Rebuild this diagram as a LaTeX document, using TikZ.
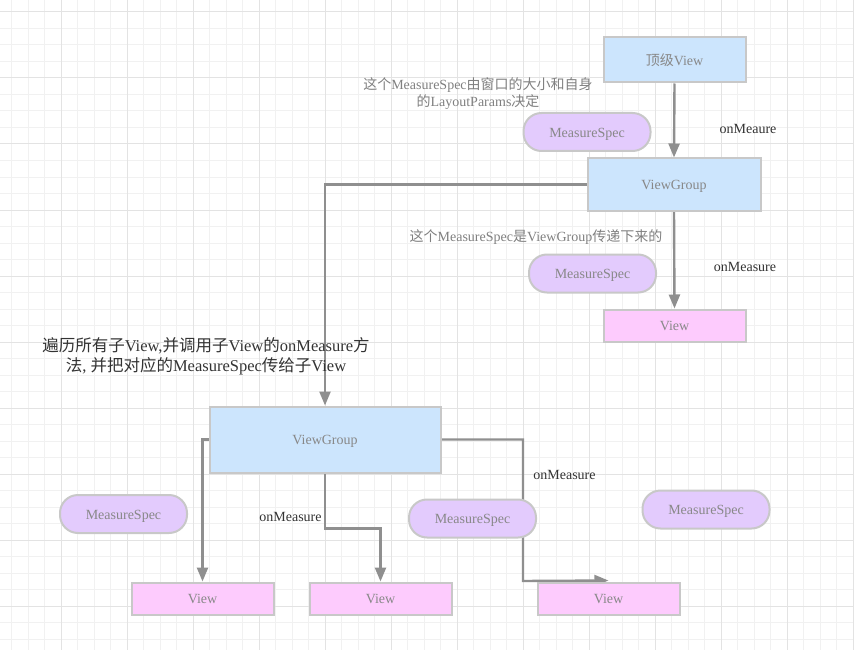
\documentclass[tikz,border=0pt]{standalone}
\usepackage{fontspec}
\setmainfont{Liberation Serif}
\newfontfamily\cjkfont{Noto Sans CJK SC}
\newcommand\zhtxt[1]{{\cjkfont #1}}
\usetikzlibrary{arrows.meta,backgrounds,calc}
\definecolor{bluefill}{HTML}{CCE5FD}
\definecolor{lavfill}{HTML}{E3CBFD}
\definecolor{pinkfill}{HTML}{FDCBFD}
\definecolor{bordergray}{HTML}{C8C8C8}
\definecolor{linegray}{HTML}{8F8F8F}
\definecolor{nodetext}{HTML}{888888}
\definecolor{notetext}{HTML}{808080}
\definecolor{darktext}{HTML}{333333}
\definecolor{minorgridc}{HTML}{F1F1F1}
\definecolor{majorgridc}{HTML}{E3E3E3}
\begin{document}
\begin{tikzpicture}[x=1pt,y=-1pt,
  minorgrid/.style={draw=minorgridc,line width=1pt},
  majorgrid/.style={draw=majorgridc,line width=1pt},
  base/.style={draw=bordergray,line width=2pt,text=nodetext,font=\fontsize{14}{16}\selectfont,inner sep=0pt,text height=10.3pt,text depth=0pt},
  bluebox/.style={base,fill=bluefill},
  pinkbox/.style={base,fill=pinkfill,minimum width=142pt,minimum height=32pt},
  specbox/.style={base,fill=lavfill,rounded corners=18pt,minimum width=127pt,minimum height=38pt},
  conn/.style={draw=linegray,line width=2.4pt},
  arr/.style={conn,-{Triangle[width=11pt,length=14pt]}},
  lbl/.style={text=darktext,font=\fontsize{14}{16}\selectfont,inner sep=0pt},
  note/.style={text=notetext,font=\fontsize{14}{17}\selectfont,align=center,inner sep=0pt},
  bignote/.style={text=darktext,font=\fontsize{16.5}{20}\selectfont,align=center,inner sep=0pt}]
\useasboundingbox (0,0) rectangle (854,650);

% nodes
\node[bluebox,minimum width=142pt,minimum height=45pt] (top) at (674.5,60) {\zhtxt{顶级}View};
\node[specbox] (ms1) at (587,132) {MeasureSpec};
\node[bluebox,minimum width=173pt,minimum height=52pt] (vg1) at (674,184.5) {ViewGroup};
\node[specbox] (ms2) at (592.5,273.5) {MeasureSpec};
\node[pinkbox] (v1) at (674.5,325.5) {View};
\node[bluebox,minimum width=231pt,minimum height=66pt] (vg2) at (325,439.5) {ViewGroup};
\node[specbox] (ms4) at (123.5,514) {MeasureSpec};
\node[specbox] (ms3) at (472.5,518.5) {MeasureSpec};
\node[specbox] (ms5) at (706,509.5) {MeasureSpec};
\node[pinkbox] (v2) at (202.5,598.5) {View};
\node[pinkbox] (v3) at (380.5,598.5) {View};
\node[pinkbox] (v4) at (608.5,598.5) {View};

% labels
\node[lbl] (l1) at (748,128.5) {onMeaure};
\node[lbl] (l2) at (745,266.5) {onMeasure};
\node[lbl] (l3) at (290.5,516.5) {onMeasure};
\node[lbl] (l4) at (564.5,474.5) {onMeasure};
\node[note] (n1) at (478,94) {\zhtxt{这个}MeasureSpec\zhtxt{由窗口的大小和自身}\\\zhtxt{的}LayoutParams\zhtxt{决定}};
\node[note] (n2) at (536,237) {\zhtxt{这个}MeasureSpec\zhtxt{是}ViewGroup\zhtxt{传递下来的}};
\node[bignote] (n3) at (206,356) {\zhtxt{遍历所有子}View,\zhtxt{并调用子}View\zhtxt{的}onMeasure\zhtxt{方}\\\zhtxt{法}, \zhtxt{并把对应的}MeasureSpec\zhtxt{传给子}View};

% grid
\begin{scope}[on background layer]
\fill[white] (0,0) rectangle (854,650);
\foreach \i in {1,...,52} \draw[minorgrid] ({-5+16.5*\i},0) -- ++(0,650);
\foreach \i in {0,...,39} \draw[minorgrid] (0,{12+16.5*\i}) -- ++(854,0);
\foreach \i in {1,...,13} \draw[majorgrid] ({-5+66*\i},0) -- ++(0,650);
\foreach \i in {0,...,9} \draw[majorgrid] (0,{12+66*\i}) -- ++(854,0);
\end{scope}

% connectors
\begin{scope}[on background layer]
\draw[arr] (top.south) -- (vg1.north);
\draw[arr] (vg1.west) -| (vg2.north);
\draw[arr] (vg1.south) -- (v1.north);
\draw[arr] (vg2.west) -| (v2.north);
\draw[arr] (vg2.south) -- ++(0,55) -| (v3.north);
\coordinate (k1) at (523,581);
\draw[arr] (vg2.east) -| (k1) -- ($(v4.north)+(0,-1)$);
\end{scope}
\end{tikzpicture}
\end{document}
